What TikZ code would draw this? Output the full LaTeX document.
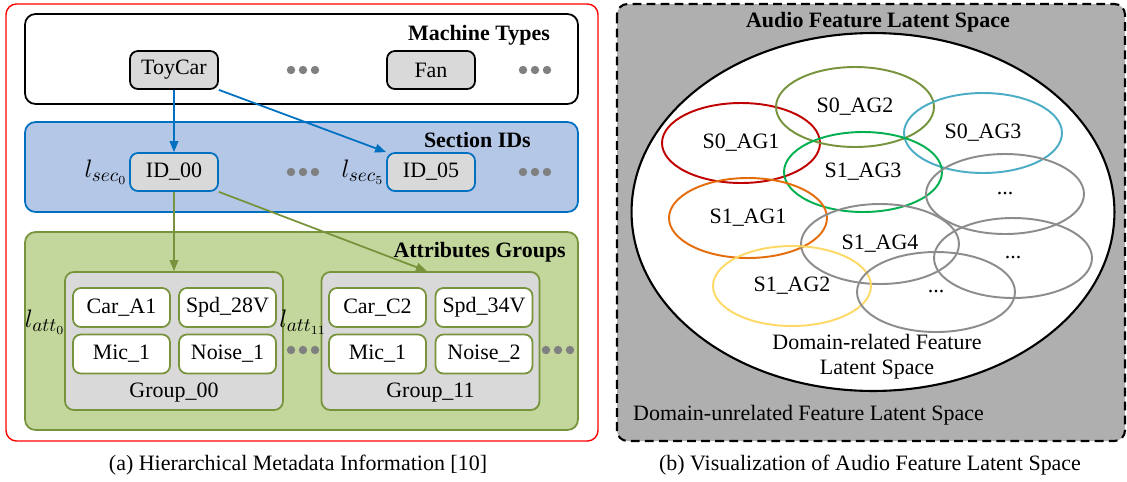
\documentclass[tikz,border=0pt]{standalone}
\usepackage{fontspec}
\setmainfont{Liberation Serif}
\usetikzlibrary{arrows.meta,shapes.geometric}
\definecolor{boxgray}{HTML}{D9D9D9}
\definecolor{secblue}{HTML}{0070C0}
\definecolor{secfill}{HTML}{B4C7E7}
\definecolor{attgreen}{HTML}{77933C}
\definecolor{attfill}{HTML}{C3D69B}
\definecolor{dotgray}{HTML}{808080}
\definecolor{spacegray}{HTML}{AFAFAF}
\definecolor{agred}{HTML}{C00000}
\definecolor{agolive}{HTML}{77933C}
\definecolor{agcyan}{HTML}{4BACC6}
\definecolor{aggreen}{HTML}{00B050}
\definecolor{agorange}{HTML}{E46C0A}
\definecolor{agyellow}{HTML}{FFD966}
\definecolor{aggray}{HTML}{8C8C8C}
\begin{document}
\begin{tikzpicture}[x=0.02cm,y=-0.02cm,
    font=\fontsize{12.5}{14}\selectfont,
    mtype/.style={draw, rounded corners=4.5pt, fill=boxgray, line width=1pt,
        minimum width=1.76cm, minimum height=0.76cm, inner sep=0pt},
    attr/.style={draw=attgreen, rounded corners=4.5pt, fill=white, line width=1pt,
        minimum width=1.94cm, minimum height=0.78cm, inner sep=0pt},
    grp/.style={draw=attgreen, fill=boxgray, rounded corners=5pt, line width=1pt,
        minimum width=4.36cm, minimum height=2.76cm},
    title/.style={font=\fontsize{12.5}{14}\selectfont\bfseries, anchor=east},
    lvl/.style={font=\fontsize{15}{17}\selectfont, inner sep=1pt},
    feat/.style={ellipse, draw, line width=1.1pt, minimum width=3.16cm, minimum height=1.6cm},
    arr/.style={-{Triangle[length=0.22cm,width=0.17cm]}, line width=1pt}]
    \useasboundingbox (0,0) rectangle (1127,481);

    % (a) metadata
    \draw[red, line width=0.8pt, rounded corners=6pt] (6,4) rectangle (598,441);
    \draw[line width=1pt, rounded corners=6pt] (25,14) rectangle (578,104);
    \draw[secblue, fill=secfill, line width=1pt, rounded corners=6pt] (25,122) rectangle (578,212);
    \draw[attgreen, fill=attfill, line width=1pt, rounded corners=6pt] (25,232) rectangle (578,430);

    \node[title] (mtTitle) at (556,35) {Machine Types};
    \node[title] (secTitle) at (537,140) {Section IDs};
    \node[title] (attTitle) at (572,252) {Attributes Groups};

    \node[mtype] (toycar) at (174,70) {ToyCar};
    \node[mtype] (fan) at (431,70) {Fan};

    \node[mtype, draw=secblue, label={[lvl]left:$l_{sec_0}$}] (id00) at (174,172) {ID\_00};
    \node[mtype, draw=secblue, label={[lvl]left:$l_{sec_5}$}] (id05) at (431,172) {ID\_05};

    \node[grp, label={[anchor=south, inner sep=5pt]south:Group\_00}] (g00) at (174,341) {};
    \node[grp, label={[anchor=south, inner sep=5pt]south:Group\_11}] (g11) at (430.5,341) {};
    \node[lvl] (latt0) at (45,322) {$l_{att_0}$};
    \node[lvl] (latt11) at (303,322) {$l_{att_{11}}$};

    \node[attr] (carA1) at (121.5,307.5) {Car\_A1};
    \node[attr] (spd28) at (227.5,307.5) {Spd\_28V};
    \node[attr] (mic0) at (121.5,354) {Mic\_1};
    \node[attr] (noise1) at (227.5,354) {Noise\_1};

    \node[attr] (carC2) at (377.5,307.5) {Car\_C2};
    \node[attr] (spd34) at (484,307.5) {Spd\_34V};
    \node[attr] (mic11) at (377.5,354) {Mic\_1};
    \node[attr] (noise2) at (484,354) {Noise\_2};

    \foreach \p in {(303,70),(535,70),(303,172),(535,172),(303,350),(558,350)}
        \foreach \d in {-12,0,12}
            \fill[dotgray] \p ++(\d,0) circle (2.4pt);

    \draw[arr, secblue] (toycar) -- (id00);
    \draw[arr, secblue] (toycar.south east) -- (id05.north west);
    \draw[arr, attgreen] (id00) -- (g00);
    \draw[arr, attgreen] (id00.south east) -- ([xshift=-0.07cm]g11.north);

    \node (capA) at (298,465) {(a) Hierarchical Metadata Information [10]};

    % (b) latent space
    \draw[fill=spacegray, line width=1.2pt, dash pattern=on 5pt off 3pt, rounded corners=6pt]
        (617,4) rectangle (1125,441);
    \node[font=\fontsize{12.5}{14}\selectfont\bfseries] (afTitle) at (878,22) {Audio Feature Latent Space};
    \node[ellipse, draw, fill=white, line width=1.2pt, minimum width=9.66cm, minimum height=7.16cm] (domain) at (873,212) {};

    \node[feat, draw=agred] (s0ag1) at (741,143) {S0\_AG1};
    \node[feat, draw=agolive] (s0ag2) at (855,107) {S0\_AG2};
    \node[feat, draw=agcyan] (s0ag3) at (983,133) {S0\_AG3};
    \node[feat, draw=aggreen] (s1ag3) at (863,172) {S1\_AG3};
    \node[feat, draw=agorange] (s1ag1) at (748,218) {S1\_AG1};
    \node[feat, draw=aggray] (moreA) at (1005,194) {...};
    \node[feat, draw=aggray] (s1ag4) at (880,244) {S1\_AG4};
    \node[feat, draw=aggray] (moreB) at (1013,258) {...};
    \node[feat, draw=agyellow] (s1ag2) at (792,286) {S1\_AG2};
    \node[feat, draw=aggray] (moreC) at (936,292) {...};

    \node[align=center] (domRel) at (877,357) {Domain-related Feature\\Latent Space};
    \node[anchor=west] (domUnrel) at (627,415) {Domain-unrelated Feature Latent Space};

    \node (capB) at (870,465) {(b) Visualization of Audio Feature Latent Space};
\end{tikzpicture}
\end{document}
